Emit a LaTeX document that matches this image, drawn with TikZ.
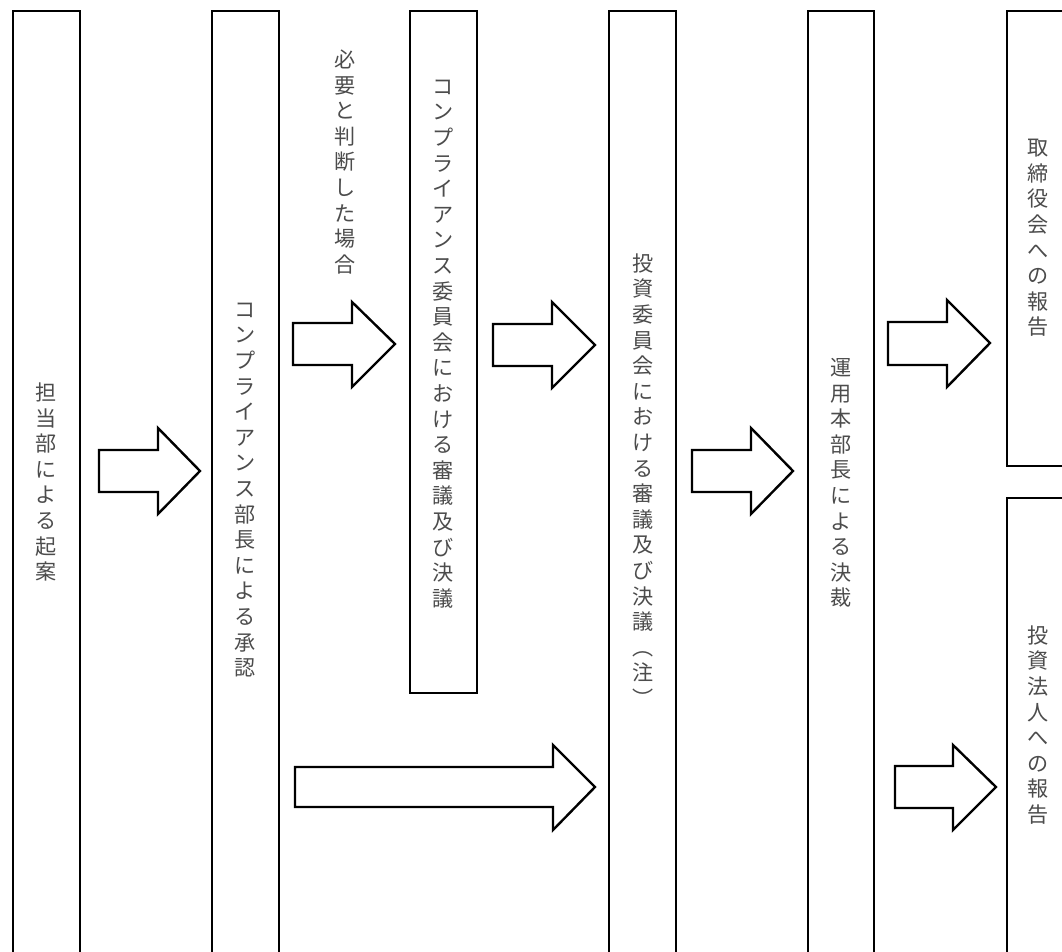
\documentclass[tikz,border=0pt]{standalone}
\usepackage{fontspec}
\usepackage{tikz}
\newfontfamily\jpfont{Noto Sans CJK JP}

\tikzset{
	box/.style={draw,line width=1.4pt},
	blockarrow/.style={draw,line width=1.7pt,line join=miter,fill=white},
	vtext/.style={align=center,inner sep=0pt,text=black!70,font=\jpfont\fontsize{15}{18.2}\selectfont}
}

\begin{document}
\begin{tikzpicture}[x=0.025cm,y=-0.025cm]
			\useasboundingbox (0,0) rectangle (1062,951);
			\clip (0,0) rectangle (1062,951);
			\fill[white] (0,0) rectangle (1062,951);

			\draw[box] (13,11) rectangle (80,970);
			\draw[box] (212,11) rectangle (279,970);
			\draw[box] (410,11) rectangle (477,693);
			\draw[box] (609,11) rectangle (676,970);
			\draw[box] (808,11) rectangle (874,970);
			\draw[box] (1007,11) rectangle (1080,466);
			\draw[box] (1007,498) rectangle (1080,970);

			\node[vtext] (tanto) at (46,482) {担\\当\\部\\に\\よ\\る\\起\\案};
			\node[vtext] (bucho) at (245,490) {コ\\ン\\プ\\ラ\\イ\\ア\\ン\\ス\\部\\長\\に\\よ\\る\\承\\認};
			\node[vtext] (hitsuyo) at (345,162) {必\\要\\と\\判\\断\\し\\た\\場\\合};
			\node[vtext] (compiinkai) at (443,344) {コ\\ン\\プ\\ラ\\イ\\ア\\ン\\ス\\委\\員\\会\\に\\お\\け\\る\\審\\議\\及\\び\\決\\議};
			\node[vtext] (toshiiinkai) at (643,480) {投\\資\\委\\員\\会\\に\\お\\け\\る\\審\\議\\及\\び\\決\\議\\︵\\注\\︶};
			\node[vtext] (unyo) at (841,483) {運\\用\\本\\部\\長\\に\\よ\\る\\決\\裁};
			\node[vtext] (torishimari) at (1038,238) {取\\締\\役\\会\\へ\\の\\報\\告};
			\node[vtext] (toshihojin) at (1038,725) {投\\資\\法\\人\\へ\\の\\報\\告};

			\draw[blockarrow] (99,450) -- (158,450) -- (158,428) -- (200,471) -- (158,514) -- (158,492) -- (99,492) -- cycle;
			\draw[blockarrow] (293,323) -- (352,323) -- (352,302) -- (395,344) -- (352,387) -- (352,365) -- (293,365) -- cycle;
			\draw[blockarrow] (493,324) -- (552,324) -- (552,302) -- (595,345) -- (552,388) -- (552,366) -- (493,366) -- cycle;
			\draw[blockarrow] (295,767) -- (553,767) -- (553,745) -- (595,787) -- (553,830) -- (553,807) -- (295,807) -- cycle;
			\draw[blockarrow] (692,450) -- (751,450) -- (751,428) -- (793,471) -- (751,514) -- (751,492) -- (692,492) -- cycle;
			\draw[blockarrow] (888,322) -- (947,322) -- (947,300) -- (990,343) -- (947,387) -- (947,365) -- (888,365) -- cycle;
			\draw[blockarrow] (895,766) -- (953,766) -- (953,745) -- (996,787) -- (953,830) -- (953,808) -- (895,808) -- cycle;
		\end{tikzpicture}
\end{document}
